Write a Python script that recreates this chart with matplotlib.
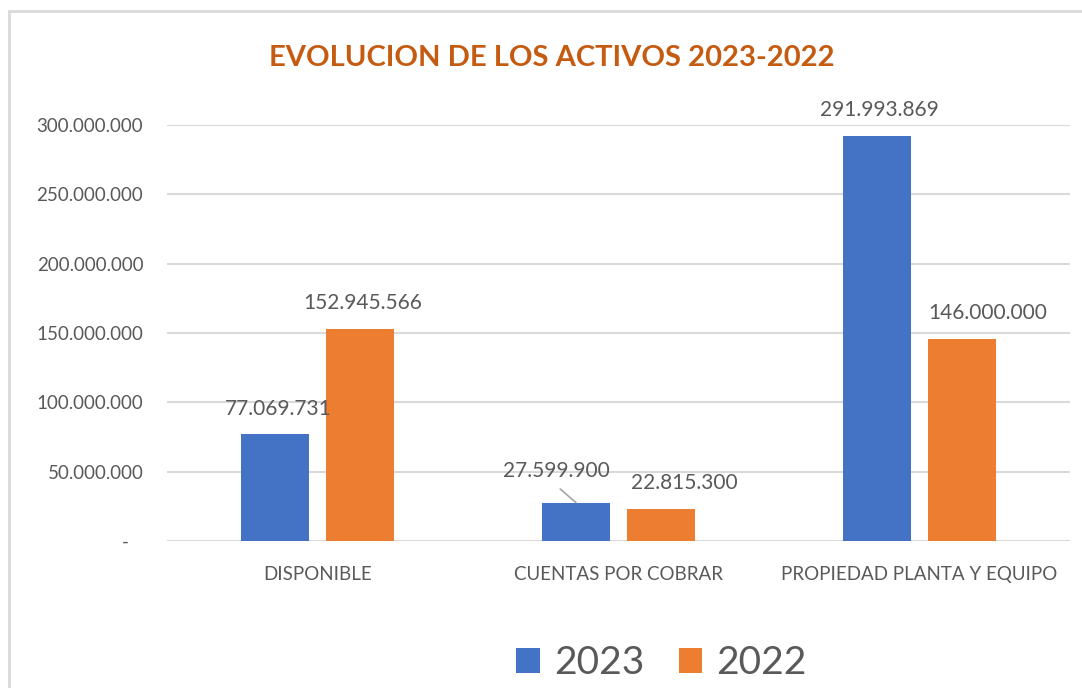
"""Evolucion de los activos 2023-2022: grouped bars rendered to out.png."""

import matplotlib
matplotlib.use("Agg")
import matplotlib.pyplot as plt
from matplotlib.patches import Rectangle
from matplotlib.ticker import FuncFormatter, MultipleLocator
import numpy as np

categories = ["DISPONIBLE", "CUENTAS POR COBRAR", "PROPIEDAD PLANTA Y EQUIPO"]
values_2023 = [77069731, 27599900, 291993869]
values_2022 = [152945566, 22815300, 146000000]
series_names = ["2023", "2022"]

BLUE = "#4472C4"
ORANGE = "#ED7D31"
GREY_TEXT = "#595959"
GRID = "#D9D9D9"

plt.rcParams["font.family"] = ["Lato", "DejaVu Sans"]


def fmt_miles(v, _pos=None):
    if v == 0:
        return "-   "
    return f"{v:,.0f}".replace(",", ".")


fig = plt.figure(figsize=(10.82, 6.88), dpi=100)
ax = fig.add_axes([0.1543, 0.2137, 0.8346, 0.6047])

x = np.arange(len(categories))
width = 0.226
offset = 0.141

bars_a = ax.bar(x - offset, values_2023, width, color=BLUE, label=series_names[0], zorder=2)
bars_b = ax.bar(x + offset, values_2022, width, color=ORANGE, label=series_names[1], zorder=2)

# Excel moved a few labels sideways; offsets in pixels (dx, dy) per label
label_shift_2023 = [(3, 25), (-20, 32), (2, 26)]
label_shift_2022 = [(3, 26), (23, 26), (26, 26)]

for bars, vals, shifts in ((bars_a, values_2023, label_shift_2023),
                           (bars_b, values_2022, label_shift_2022)):
    for rect, v, (dx, dy) in zip(bars, vals, shifts):
        cx = rect.get_x() + rect.get_width() / 2
        arrow = None
        if dx < -10:
            # label pulled away from its bar gets a leader line
            arrow = dict(arrowstyle="-", color="#A6A6A6", lw=1.2,
                         relpos=(0.45, 0.0), shrinkA=6, shrinkB=0)
        ax.annotate(
            fmt_miles(v), xy=(cx, v), xytext=(dx, dy), textcoords="offset pixels",
            ha="center", va="center", fontsize=15, color=GREY_TEXT, zorder=4,
            arrowprops=arrow,
        )

ax.set_xlim(-0.5, len(categories) - 0.5)
ax.set_ylim(0, 300000000)
ax.yaxis.set_major_locator(MultipleLocator(50000000))
ax.yaxis.set_major_formatter(FuncFormatter(fmt_miles))
ax.set_xticks(x)
ax.set_xticklabels(categories)
ax.tick_params(axis="y", length=0, pad=17, labelsize=13.5, labelcolor=GREY_TEXT)
ax.tick_params(axis="x", length=0, pad=18, labelsize=13.5, labelcolor=GREY_TEXT)
ax.grid(axis="y", color=GRID, linewidth=1.5, zorder=0)
ax.set_axisbelow(True)
for s in ax.spines.values():
    s.set_visible(False)

fig.text(0.51, 1 - 58 / 688, "EVOLUCION DE LOS ACTIVOS 2023-2022", ha="center", va="center",
         fontsize=21, fontweight="bold", color="#C55A11")

fig.legend(
    loc="center", bbox_to_anchor=(0.6114, 1 - 663 / 688), ncol=2, frameon=False,
    fontsize=28, handlelength=0.6, handleheight=0.6, handletextpad=0.36,
    columnspacing=0.9, labelcolor=GREY_TEXT,
)

# chart area border (cut off at the right and bottom of the screenshot)
fig.patches.append(Rectangle((9 / 1082, -0.05), 1.1, 1 - 11 / 688 + 0.05,
                             transform=fig.transFigure, fill=False,
                             edgecolor=GRID, linewidth=2))

fig.savefig("out.png", dpi=100, facecolor="white")
